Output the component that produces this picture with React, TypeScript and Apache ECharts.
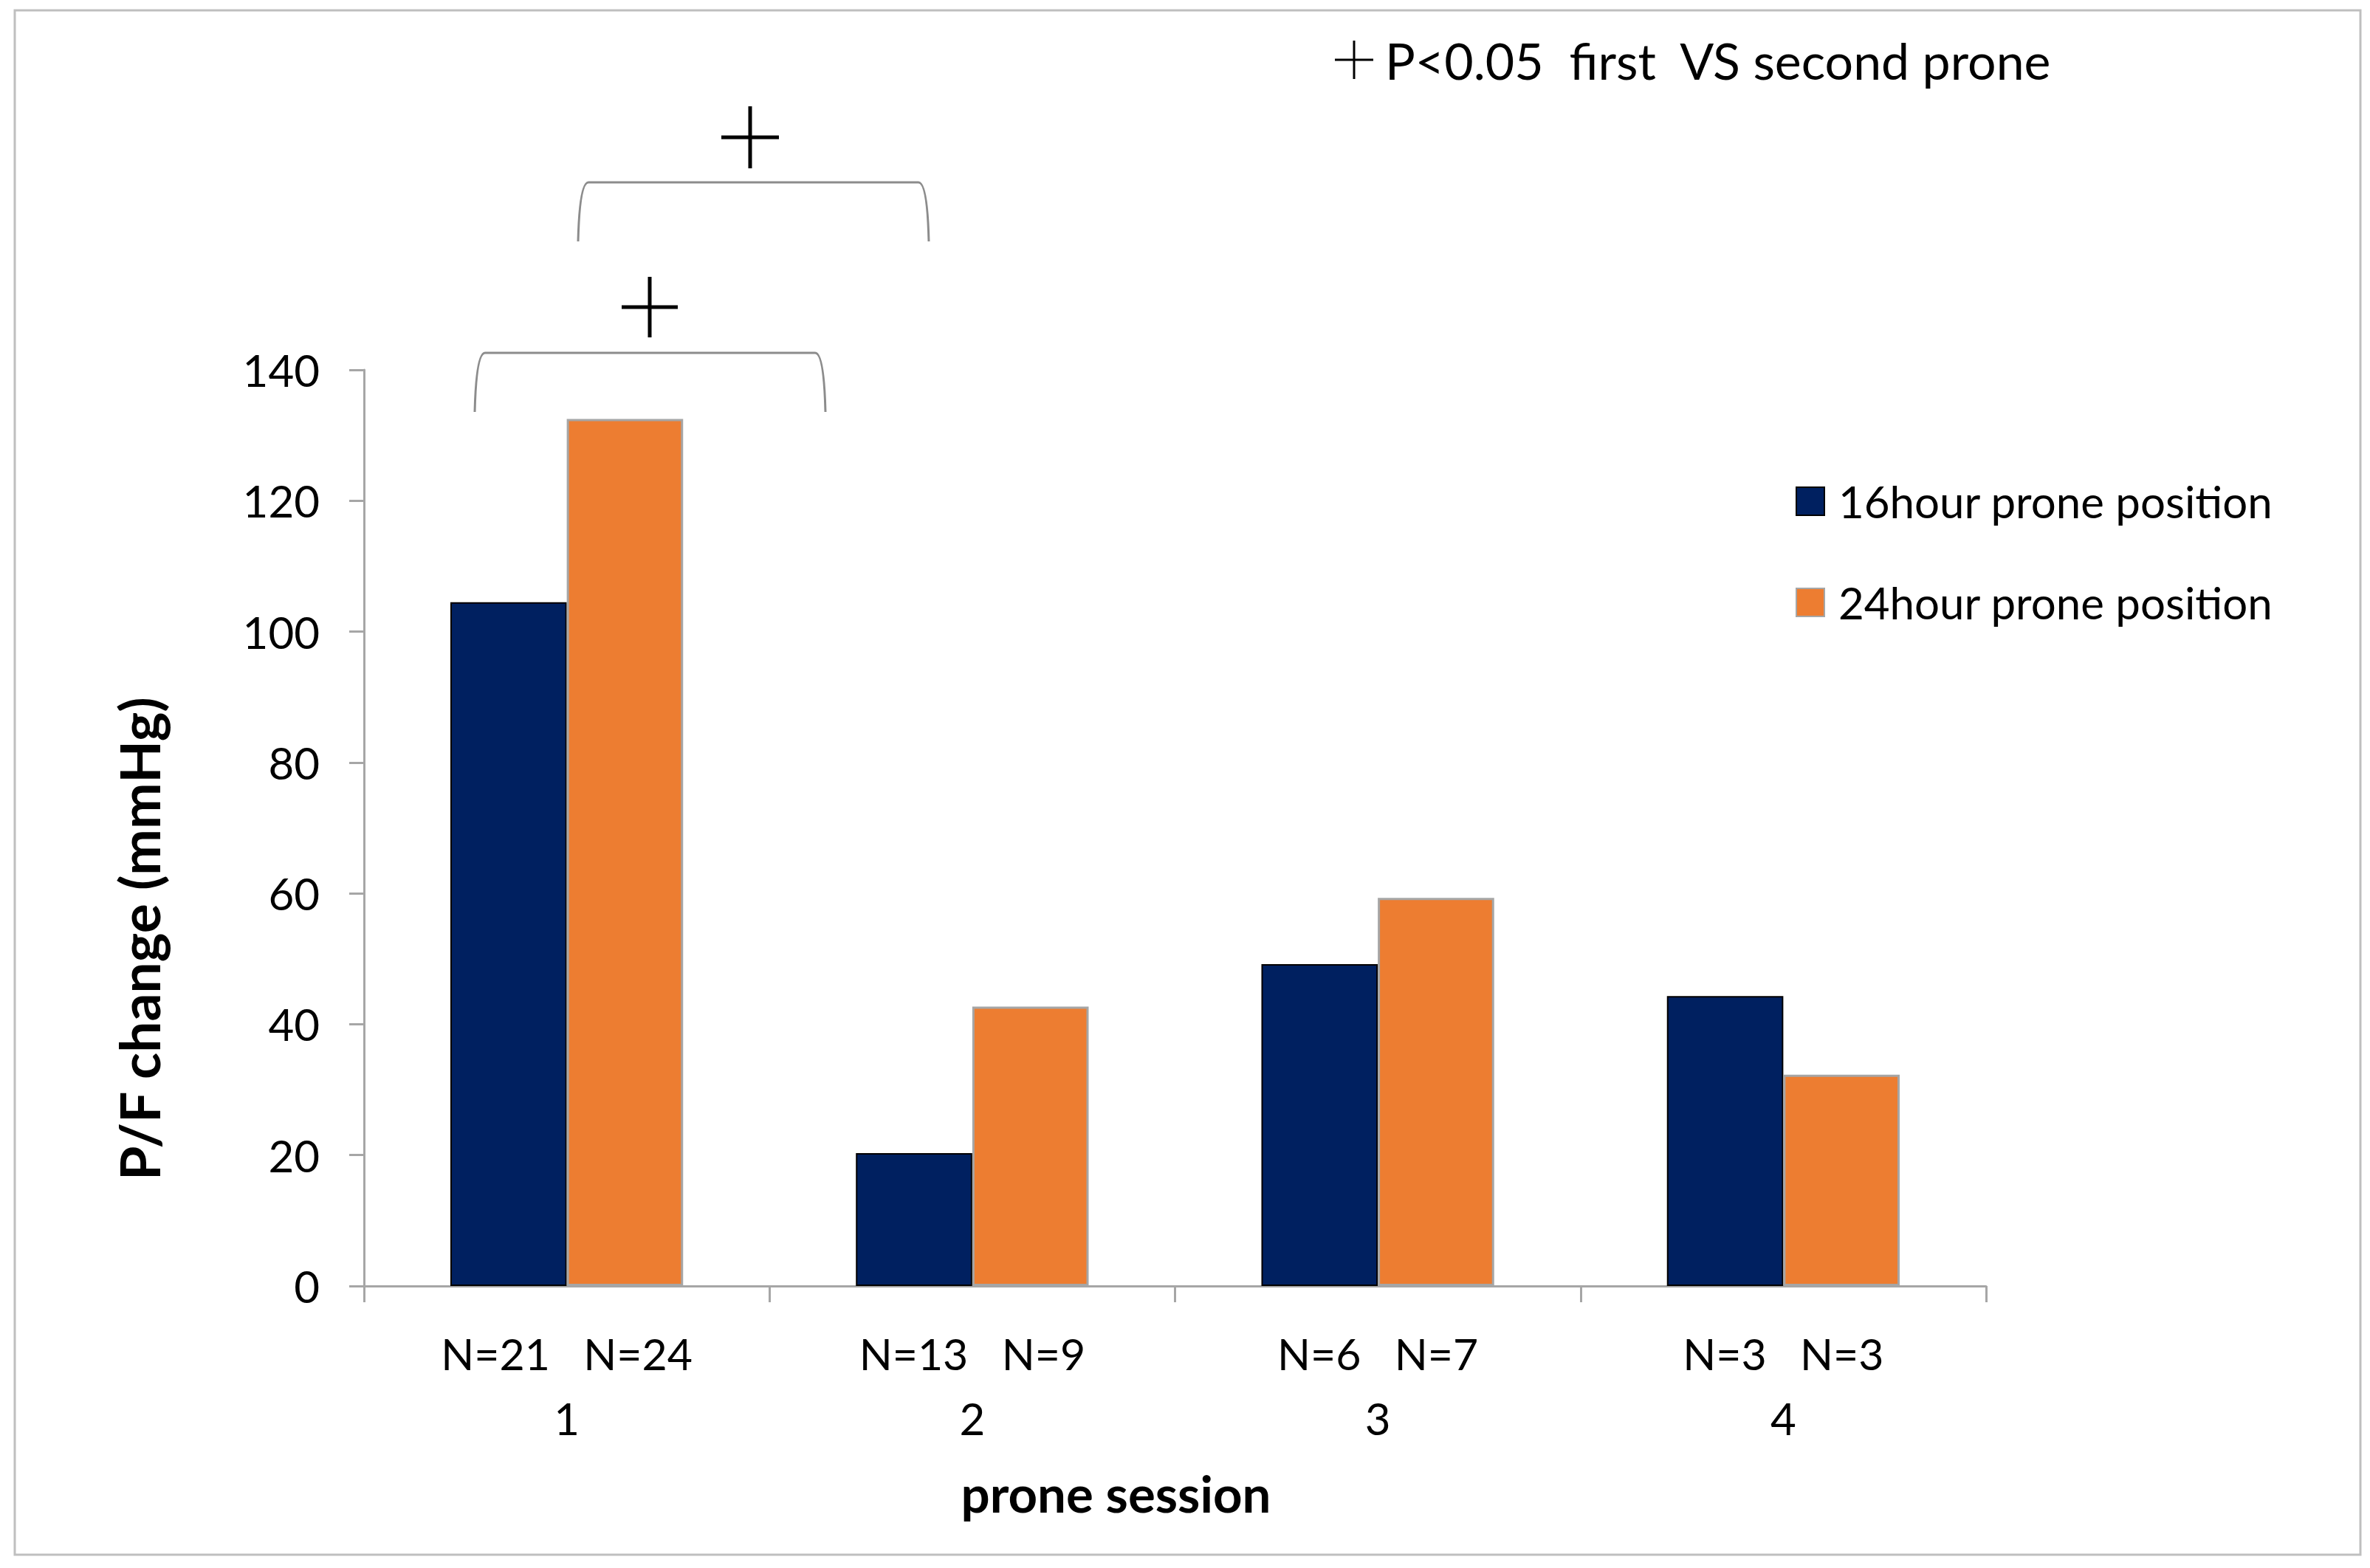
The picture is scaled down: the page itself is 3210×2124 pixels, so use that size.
import React, { useEffect, useRef } from 'react';
import * as echarts from 'echarts';

const categories = ['1', '2', '3', '4'];
const n16 = [21, 13, 6, 3];
const n24 = [24, 9, 7, 3];
const pf16 = [104.5, 20.3, 49.2, 44.3];
const pf24 = [132.5, 42.7, 59.3, 32.3];
const seriesNames = ['16hour prone position', '24hour prone position'];
const yMin = 0;
const yMax = 140;
const yStep = 20;
const annotationText = 'P<0.05  first  VS second prone';
const yTitle = 'P/F change (mmHg)';
const xTitle = 'prone session';

const FONT = 'Lato, "Open Sans", sans-serif';
const AXIS_GREY = '#a6a6a6';

function bracket(x0: number, x1: number, yt: number, yb: number, r = 14) {
  const style = { stroke: '#8c8c8c', lineWidth: 3, fill: null as any };
  return [
    { type: 'bezierCurve', shape: { x1: x0, y1: yb, x2: x0 + r, y2: yt, cpx1: x0 + 2, cpy1: yt }, style },
    { type: 'line', shape: { x1: x0 + r, y1: yt, x2: x1 - r, y2: yt }, style },
    { type: 'bezierCurve', shape: { x1: x1 - r, y1: yt, x2: x1, y2: yb, cpx1: x1 - 2, cpy1: yt }, style },
  ];
}

function plus(cx: number, cy: number, hw: number, hh: number, lw: number) {
  const style = { stroke: '#000', lineWidth: lw };
  return [
    { type: 'line', shape: { x1: cx - hw, y1: cy, x2: cx + hw, y2: cy }, style },
    { type: 'line', shape: { x1: cx, y1: cy - hh, x2: cx, y2: cy + hh }, style },
  ];
}

export default function App() {
  const ref = useRef<HTMLDivElement>(null);
  useEffect(() => {
    if (!ref.current) return;
    const chart = echarts.init(ref.current, undefined, { renderer: 'svg' });
    const option: any = {
      animation: false,
      backgroundColor: '#fff',
      grid: { left: 493, right: 520, top: 501, bottom: 382, containLabel: false },
      legend: {
        orient: 'vertical',
        left: 2427,
        top: 644,
        itemWidth: 38,
        itemHeight: 38,
        itemGap: 77,
        icon: 'rect',
        data: seriesNames,
        textStyle: { fontSize: 60, fontFamily: FONT, color: '#000', lineHeight: 60, padding: [0, 0, 0, 14] },
      },
      xAxis: {
        type: 'category',
        data: categories,
        axisLine: { show: true, lineStyle: { color: AXIS_GREY, width: 3 } },
        axisTick: { show: true, length: 22, alignWithLabel: false, lineStyle: { color: AXIS_GREY, width: 3 } },
        axisLabel: {
          margin: 47,
          formatter: (v: string, i: number) => `{n|N=${n16[i]}   N=${n24[i]}}\n{c|${v}}`,
          rich: {
            n: { fontSize: 59, lineHeight: 88, fontFamily: FONT, color: '#000' },
            c: { fontSize: 60, lineHeight: 88, fontFamily: FONT, color: '#000' },
          },
        },
        name: xTitle,
        nameLocation: 'middle',
        nameGap: 246,
        nameTextStyle: { fontSize: 69, fontWeight: 'bold', fontFamily: FONT, color: '#000', padding: [0, 160, 0, 0] },
      },
      yAxis: {
        type: 'value',
        min: yMin,
        max: yMax,
        interval: yStep,
        axisLine: { show: true, lineStyle: { color: AXIS_GREY, width: 3 } },
        axisTick: { show: true, length: 20, lineStyle: { color: AXIS_GREY, width: 3 } },
        splitLine: { show: false },
        axisLabel: { fontSize: 60, fontFamily: FONT, color: '#000', margin: 60 },
        name: yTitle,
        nameLocation: 'middle',
        nameGap: 268,
        nameRotate: 90,
        nameTextStyle: { fontSize: 75, fontWeight: 'bold', fontFamily: FONT, color: '#000', padding: [0, 300, 0, 0] },
      },
      series: [
        {
          name: seriesNames[0],
          type: 'bar',
          data: pf16,
          barGap: '0%',
          barCategoryGap: '42.6%',
          itemStyle: { color: '#002060', borderColor: '#000', borderWidth: 2 },
        },
        {
          name: seriesNames[1],
          type: 'bar',
          data: pf24,
          barGap: '0%',
          barCategoryGap: '42.6%',
          itemStyle: { color: '#ED7D31', borderColor: '#a6a6a6', borderWidth: 3 },
        },
      ],
      graphic: [
        { type: 'rect', shape: { x: 20, y: 14, width: 3177, height: 2092 }, style: { fill: null, stroke: '#bfbfbf', lineWidth: 3 }, silent: true },
        ...plus(1834, 81, 26, 26, 3),
        {
          type: 'text',
          x: 1876,
          y: 81,
          style: { text: annotationText, fontSize: 68, fontFamily: FONT, fill: '#000', align: 'left', verticalAlign: 'middle' },
        },
        ...bracket(783, 1258, 247, 327),
        ...plus(1016, 186, 39, 42, 5),
        ...bracket(643, 1118, 478, 558),
        ...plus(880, 416, 38, 41, 5),
      ],
    };
    chart.setOption(option);
    return () => chart.dispose();
  }, []);
  return <div ref={ref} style={{ position: 'absolute', left: 0, top: 0, width: 3210, height: 2124 }} />;
}
